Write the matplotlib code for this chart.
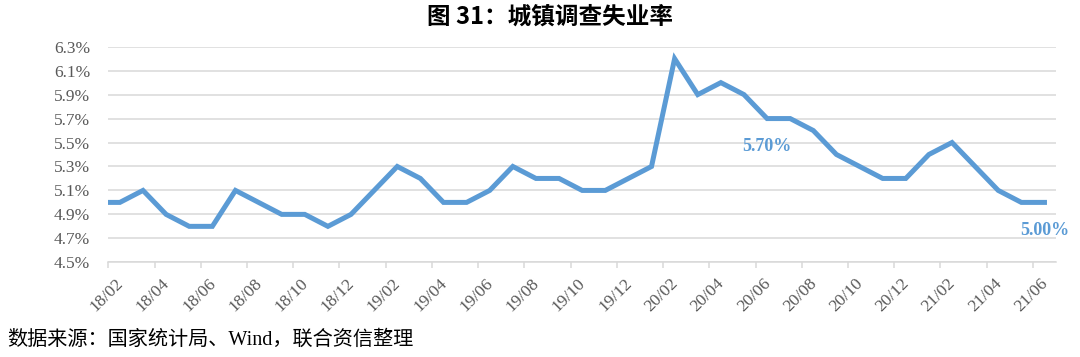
import matplotlib
matplotlib.use("Agg")
import matplotlib.pyplot as plt
from matplotlib.transforms import ScaledTranslation
from matplotlib.ticker import FuncFormatter

# monthly data, 18/01 .. 21/06 (the first point sits left of the axis and is clipped)
months = ["18/01", "18/02", "18/03", "18/04", "18/05", "18/06", "18/07", "18/08",
          "18/09", "18/10", "18/11", "18/12", "19/01", "19/02", "19/03", "19/04",
          "19/05", "19/06", "19/07", "19/08", "19/09", "19/10", "19/11", "19/12",
          "20/01", "20/02", "20/03", "20/04", "20/05", "20/06", "20/07", "20/08",
          "20/09", "20/10", "20/11", "20/12", "21/01", "21/02", "21/03", "21/04",
          "21/05", "21/06"]
rate = [5.0, 5.0, 5.1, 4.9, 4.8, 4.8, 5.1, 5.0, 4.9, 4.9, 4.8, 4.9,
        5.1, 5.3, 5.2, 5.0, 5.0, 5.1, 5.3, 5.2, 5.2, 5.1, 5.1, 5.2,
        5.3, 6.2, 5.9, 6.0, 5.9, 5.7, 5.7, 5.6, 5.4, 5.3, 5.2, 5.2,
        5.4, 5.5, 5.3, 5.1, 5.0, 5.0]
tick_labels = months[1::2]
labelled = ["20/06", "21/06"]

title = "图 31：城镇调查失业率"
source = "数据来源：国家统计局、Wind，联合资信整理"

blue = "#5B9BD5"
grid_c = "#d9d9d9"
text_c = "#595959"
serif = ["Liberation Serif", "DejaVu Serif"]

fig = plt.figure(figsize=(10.8, 3.57), dpi=100)
ax = fig.add_axes([0.1003, 0.2653, 0.8775, 0.6039])

# points sit mid-month, ticks on month boundaries
x = [i - 0.5 for i in range(len(months))]
ax.plot(x, rate, color=blue, lw=3.6, solid_joinstyle="miter", zorder=3)

ax.set_xlim(0, 41)
ax.set_ylim(4.5, 6.3)
ax.set_yticks([4.5 + 0.2 * k for k in range(10)])
ax.yaxis.set_major_formatter(FuncFormatter(lambda v, p: f"{v:.1f}%"))
ax.grid(axis="y", color=grid_c, lw=1.1)
ax.set_axisbelow(True)

tick_pos = [2 * k for k in range(len(tick_labels))]
ax.set_xticks(tick_pos)
ax.set_xticklabels(tick_labels)

for s in ["top", "right", "left"]:
    ax.spines[s].set_visible(False)
ax.spines["bottom"].set_color(grid_c)
ax.spines["bottom"].set_linewidth(1.1)

ax.tick_params(axis="y", length=0, pad=13, labelsize=12.5, labelcolor=text_c)
ax.tick_params(axis="x", length=4.5, width=1.1, color=grid_c, pad=19,
               labelsize=12.6, labelcolor=text_c)
for lab in ax.get_yticklabels():
    lab.set_fontfamily(serif)
shift = ScaledTranslation(-1.5 / 100, 0, fig.dpi_scale_trans)
for lab in ax.get_xticklabels():
    lab.set_fontfamily(serif)
    lab.set_rotation(45)
    lab.set_ha("center")
    lab.set_va("center")
    lab.set_rotation_mode("anchor")
    lab.set_transform(lab.get_transform() + shift)

for m in labelled:
    i = months.index(m)
    ax.annotate(f"{rate[i]:.2f}%", (x[i], rate[i]), xytext=(0, -20),
                textcoords="offset points", ha="center", va="center",
                color=blue, fontsize=13, fontweight="bold", family=serif,
                annotation_clip=False)

fig.text(0.509, 0.952, title, ha="center", va="center", fontsize=17,
         fontweight="bold", family=["Noto Sans CJK SC", "DejaVu Sans"])
fig.text(0.007, 0.048, source, ha="left", va="center", fontsize=14.5,
         family=["Liberation Serif", "Noto Sans CJK SC"], color="black")

fig.savefig("out.png", dpi=100)
